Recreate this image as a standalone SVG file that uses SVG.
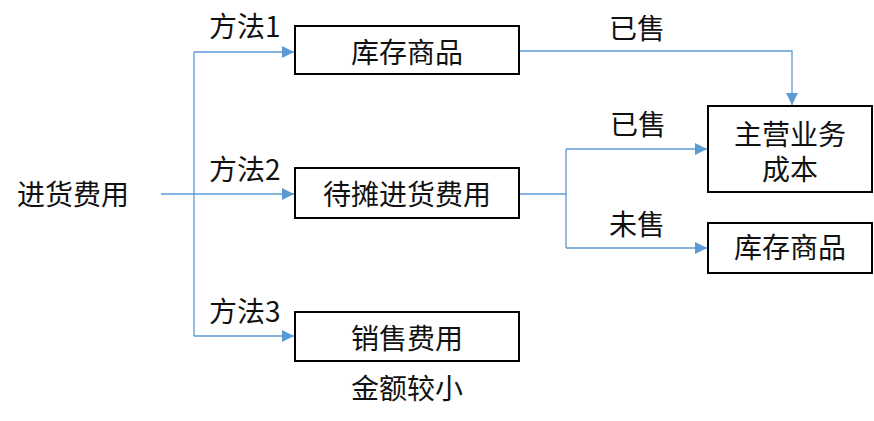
<svg xmlns="http://www.w3.org/2000/svg" width="874" height="421" viewBox="0 0 874 421">
<style>
.box{fill:#fff;stroke:#000;stroke-width:2}
.t{font-family:"Noto Sans CJK SC","Liberation Sans",sans-serif;font-size:28px;fill:#111}
.m{text-anchor:middle}
.c{fill:none;stroke:#5B9BD5;stroke-width:1.3}
</style>
<defs>
<marker id="ah" markerUnits="userSpaceOnUse" markerWidth="12" markerHeight="12" refX="12" refY="6" orient="auto">
<path d="M0,0 L12,6 L0,12 Z" fill="#5B9BD5"/>
</marker>
</defs>
<rect width="874" height="421" fill="#fff"/>
<g id="connectors">
<path class="c" d="M161,194 H194"/>
<path class="c" d="M194,52 V336"/>
<path class="c" d="M194,52 H294" marker-end="url(#ah)"/>
<path class="c" d="M194,194 H294" marker-end="url(#ah)"/>
<path class="c" d="M194,336 H294" marker-end="url(#ah)"/>
<path class="c" d="M520,51 H792 V105" marker-end="url(#ah)"/>
<path class="c" d="M520,194 H566"/>
<path class="c" d="M566,149 V248"/>
<path class="c" d="M566,149 H707" marker-end="url(#ah)"/>
<path class="c" d="M566,248 H707" marker-end="url(#ah)"/>
</g>
<g id="labels">
<text class="t" x="209" y="37">方法1</text>
<text class="t" x="209" y="180">方法2</text>
<text class="t" x="209" y="322">方法3</text>
<text class="t m" x="637" y="39">已售</text>
<text class="t m" x="638" y="135">已售</text>
<text class="t m" x="637" y="235">未售</text>
</g>
<g id="n-source"><text class="t" x="17" y="205">进货费用</text></g>
<g id="n-inventory1"><rect class="box" x="295" y="26" width="224" height="48"/><text class="t m" x="407" y="63">库存商品</text></g>
<g id="n-deferred"><rect class="box" x="295" y="168" width="224" height="50"/><text class="t m" x="407" y="205">待摊进货费用</text></g>
<g id="n-sales"><rect class="box" x="295" y="312" width="224" height="49"/><text class="t m" x="407" y="349">销售费用</text></g>
<g id="n-note"><text class="t m" x="407" y="399">金额较小</text></g>
<g id="n-cost"><rect class="box" x="708" y="106" width="164" height="86"/><text class="t m" x="790" y="145">主营业务</text><text class="t m" x="790" y="180">成本</text></g>
<g id="n-inventory2"><rect class="box" x="708" y="223" width="164" height="50"/><text class="t m" x="790" y="258">库存商品</text></g>
</svg>
